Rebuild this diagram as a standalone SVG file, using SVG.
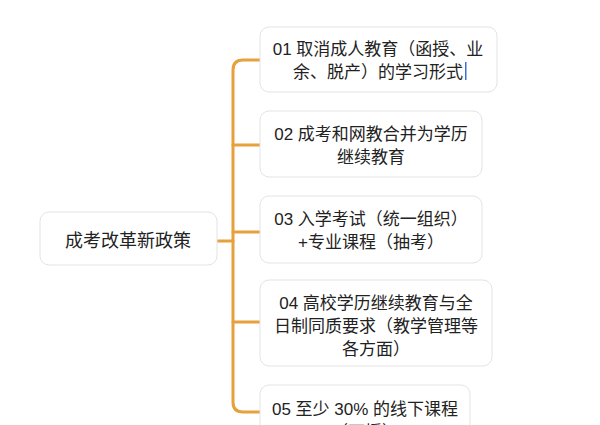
<svg xmlns="http://www.w3.org/2000/svg" width="600" height="425" viewBox="0 0 600 425">
<style>
.b{fill:#fff;stroke:#e3e3e3;stroke-width:1}
.t{font-family:"Liberation Sans","Noto Sans CJK SC",sans-serif;font-size:17px;fill:#222;text-anchor:middle}
.c{fill:none;stroke:#e6a03c;stroke-width:3;stroke-linecap:round}
</style>
<rect width="600" height="425" fill="#fff"/>
<g id="connectors">
<path class="c" d="M217,241 H233"/>
<path class="c" d="M260,60 H243 Q233,60 233,70 V402 Q233,412 243,412 H260"/>
<path class="c" d="M233,145 H260 M233,232 H260 M233,322 H260"/>
</g>
<g id="center"><rect class="b" x="40" y="212" width="177" height="53" rx="9"/><text class="t" x="128" y="247" style="font-size:18px">成考改革新政策</text></g>
<g id="n1"><rect class="b" x="260" y="27" width="237" height="65" rx="9"/><text class="t" x="378" y="55">01 取消成人教育（函授、业</text><text class="t" x="378" y="78">余、脱产）的学习形式</text><rect x="465" y="62" width="1.5" height="18" fill="#3a6fd8"/></g>
<g id="n2"><rect class="b" x="260" y="111" width="222" height="66" rx="9"/><text class="t" x="371" y="140">02 成考和网教合并为学历</text><text class="t" x="371" y="163">继续教育</text></g>
<g id="n3"><rect class="b" x="260" y="196" width="222" height="67" rx="9"/><text class="t" x="371" y="225">03 入学考试（统一组织）</text><text class="t" x="371" y="248">+专业课程（抽考）</text></g>
<g id="n4"><rect class="b" x="260" y="280" width="232" height="86" rx="9"/><text class="t" x="376" y="309">04 高校学历继续教育与全</text><text class="t" x="376" y="332">日制同质要求（教学管理等</text><text class="t" x="376" y="355">各方面）</text></g>
<g id="n5"><rect class="b" x="260" y="385" width="210" height="60" rx="9"/><text class="t" x="365" y="415">05 至少 30% 的线下课程</text><text class="t" x="365" y="438">（面授）</text></g>
</svg>
